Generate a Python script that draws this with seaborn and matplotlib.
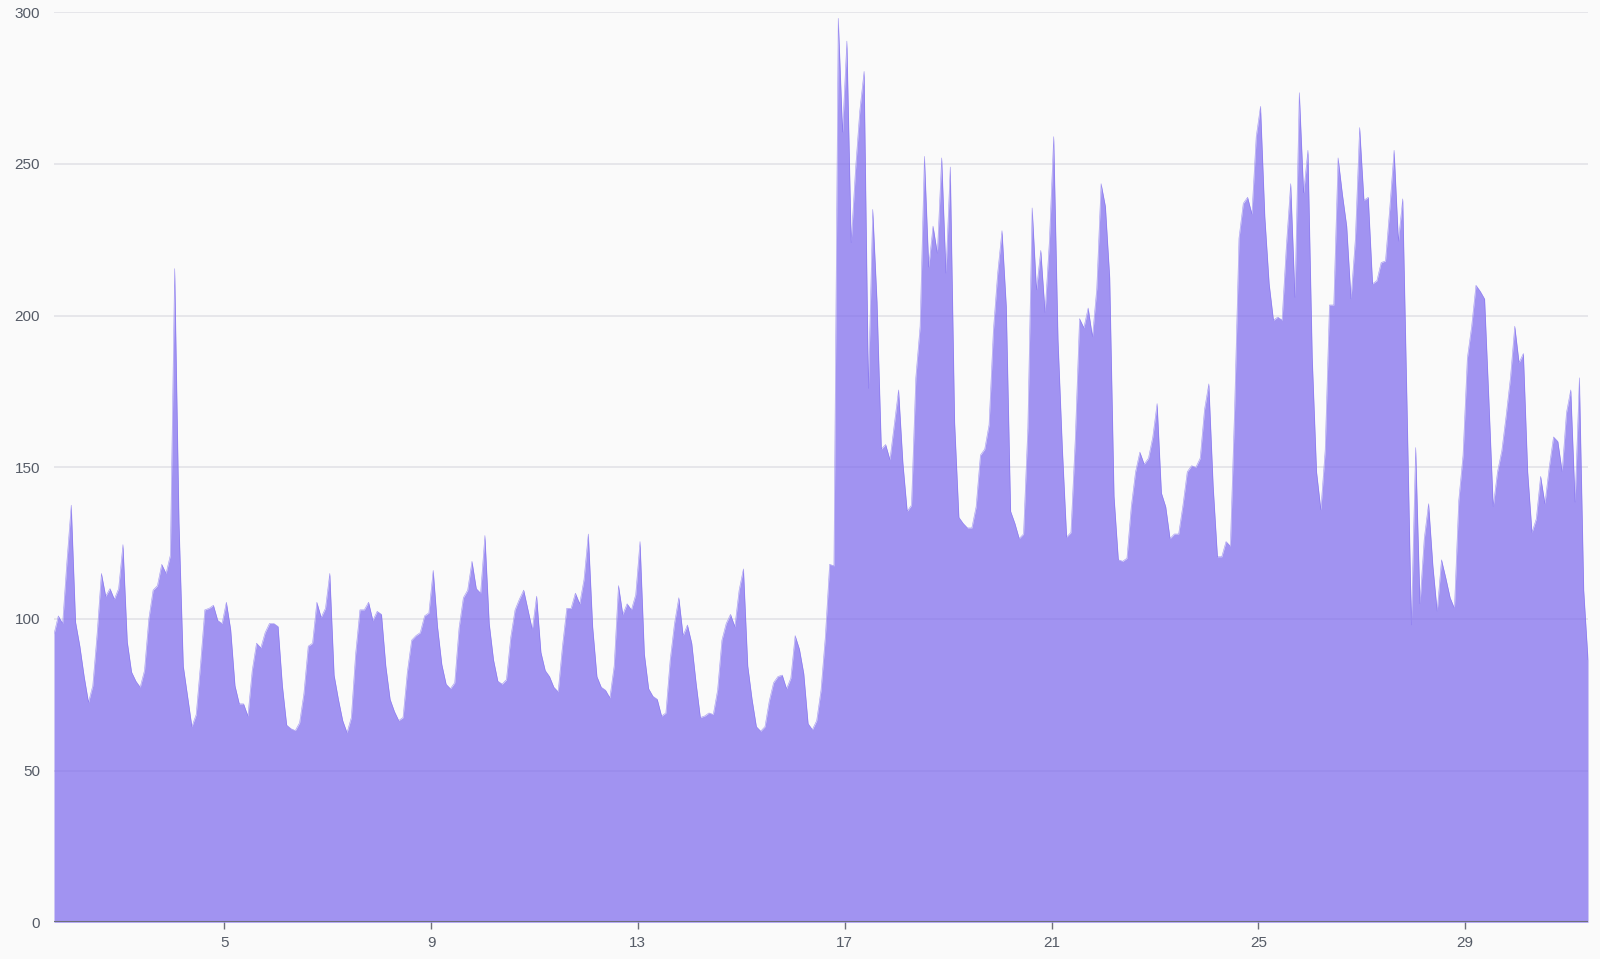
import numpy as np
import pandas as pd
import matplotlib
matplotlib.use("Agg")
import matplotlib.pyplot as plt
import seaborn as sns

# ---- data: 2-hourly values, starting day 1 at 17:00 ----
start_day = 1 + 17 / 24
step_days = 2 / 24

values_a = [95, 101, 98.5, 119, 137.5, 99, 91, 81, 72.5, 78, 95, 115,
            107.5, 110, 106.5, 110, 124.5, 92.5, 82.5, 79.5, 77.5, 83, 100, 109.5,
            111, 118, 115, 121, 215.5, 132, 84.5, 74.5, 64.5, 68.5, 85, 103,
            103.5, 104.5, 99.5, 98.5, 105.5, 96.5, 78, 72, 72, 68, 83, 92,
            90.5, 95.5, 98.5, 98.5, 97.5, 78, 65, 63.8, 63.2, 65.8, 75.5, 91,
            92, 105.5, 100.5, 103.5, 115, 81.5, 73.5, 66.5, 62.5, 67.5, 88.5, 103]
values_b = [103, 105.5, 99.5, 102.5, 101.5, 84.5, 73.5, 69.5, 66.5, 67.5, 82.5, 93,
            94.5, 95.5, 101, 102, 116, 97.5, 85, 78.5, 77, 79, 97, 107,
            109.5, 119, 110, 108.5, 127.5, 98.5, 86.5, 79.5, 78.5, 80, 94, 103,
            106.5, 109.5, 103, 96.5, 107.5, 89, 83, 81, 77.5, 76, 91, 103.5,
            103.5, 108.5, 105, 113, 128, 97.5, 81, 77.5, 76.5, 74, 84.5, 111,
            101.5, 105, 103, 108, 125.5, 88.5, 77, 74.5, 73.5, 68, 69, 86.5]
values_c = [98.5, 107, 94.5, 98, 92, 79, 67.5, 68, 69, 68.5, 76.5, 93,
            98.5, 101.5, 97.5, 109.5, 116.5, 84.5, 73.5, 64.5, 63, 64.5, 73, 79,
            81, 81.5, 77, 80.5, 94.5, 90, 82, 65.5, 63.5, 66.5, 76.5, 94,
            118, 117.5, 298, 260.5, 290.5, 224, 248, 267.5, 280.5, 176, 235, 204.5,
            156, 157.5, 152.5, 164, 175.5, 151.5, 135.5, 137.5, 179.5, 196.5, 252.5, 216,
            229.5, 220.5, 252, 214, 249, 165, 133.5, 131.5, 130, 130, 137, 154]
values_d = [156, 164, 195, 214, 228, 203, 135.5, 131.5, 126.5, 128, 163, 235.5,
            208.5, 221.5, 201, 224.5, 259, 192, 156.5, 127, 128.5, 159, 199, 196,
            202.5, 193, 209, 243.5, 236, 212.5, 140.5, 119.5, 119, 120, 137, 148.5,
            155, 151, 153, 160, 171, 141.5, 137, 126.5, 128, 128, 137.5, 148.5,
            150.5, 150, 153, 169, 177.5, 144, 120.5, 120.5, 125.5, 124, 170, 225.5,
            237, 239, 233.5, 259, 269, 232.5, 210.5, 198.5, 199.5, 198.5, 223, 243.5]
values_e = [206, 273.5, 240.5, 254.5, 186, 148.5, 136, 155.5, 203.5, 203.5, 252, 240,
            229.5, 205.5, 225, 262, 238, 239, 210.5, 211.5, 217.5, 218, 235.5, 254.5,
            224.5, 238.5, 170, 98, 156.5, 105, 126.5, 138, 117.5, 102.5, 119.5, 113.5,
            107, 103.5, 139, 154, 186, 196.5, 210, 208, 205.5, 172, 137, 148.5,
            155.5, 167, 179.5, 196.5, 184.5, 187.5, 148.5, 128.5, 133, 147, 138, 150,
            160, 158.5, 148.5, 168, 175.5, 138.5, 179.5, 109.5, 86.5]

y_ticks = [0, 50, 100, 150, 200, 250, 300]
x_ticks = [5, 9, 13, 17, 21, 25, 29]

values = values_a + values_b + values_c + values_d + values_e
days = start_day + step_days * np.arange(len(values))
df = pd.DataFrame({"day": days, "value": values})

# ---- style ----
sns.set_theme(style="white")
plt.rcParams["font.family"] = ["Liberation Sans", "DejaVu Sans"]

bg = "#fafafa"
base_color = "#7b68ee"
edge_color = "#a194f2"
axis_color = "#6e7079"
grid_color = "#e0e0e6"

fig = plt.figure(figsize=(16, 9.59), dpi=100, facecolor=bg)
ax = fig.add_axes([0.03375, 0.0383, 0.95875, 0.9489])
ax.set_facecolor(bg)

for yv in y_ticks[1:]:
    ax.axhline(yv, color=grid_color, lw=1.1, zorder=1)

sns.lineplot(data=df, x="day", y="value", ax=ax, color=edge_color, lw=0.4, zorder=2)
ax.fill_between(df["day"], df["value"], 0, color=base_color, alpha=0.7, lw=0, zorder=3)

ax.set_xlim(df["day"].iloc[0], df["day"].iloc[-1])
ax.set_ylim(0, 300)
ax.set_yticks(y_ticks)
ax.set_xticks(x_ticks)
ax.set_xticklabels([str(t) for t in x_ticks])
ax.set_xlabel("")
ax.set_ylabel("")

ax.axhline(0, color=axis_color, lw=1.5, zorder=4)

for s in ["top", "right", "left", "bottom"]:
    ax.spines[s].set_visible(False)

ax.tick_params(axis="y", length=0, pad=10, labelsize=11, labelcolor="#555b66")
ax.tick_params(axis="x", length=5, width=1, color=axis_color, pad=5,
               labelsize=11, labelcolor="#555b66", direction="out", bottom=True)

fig.savefig("out.png", dpi=100, facecolor=bg)
